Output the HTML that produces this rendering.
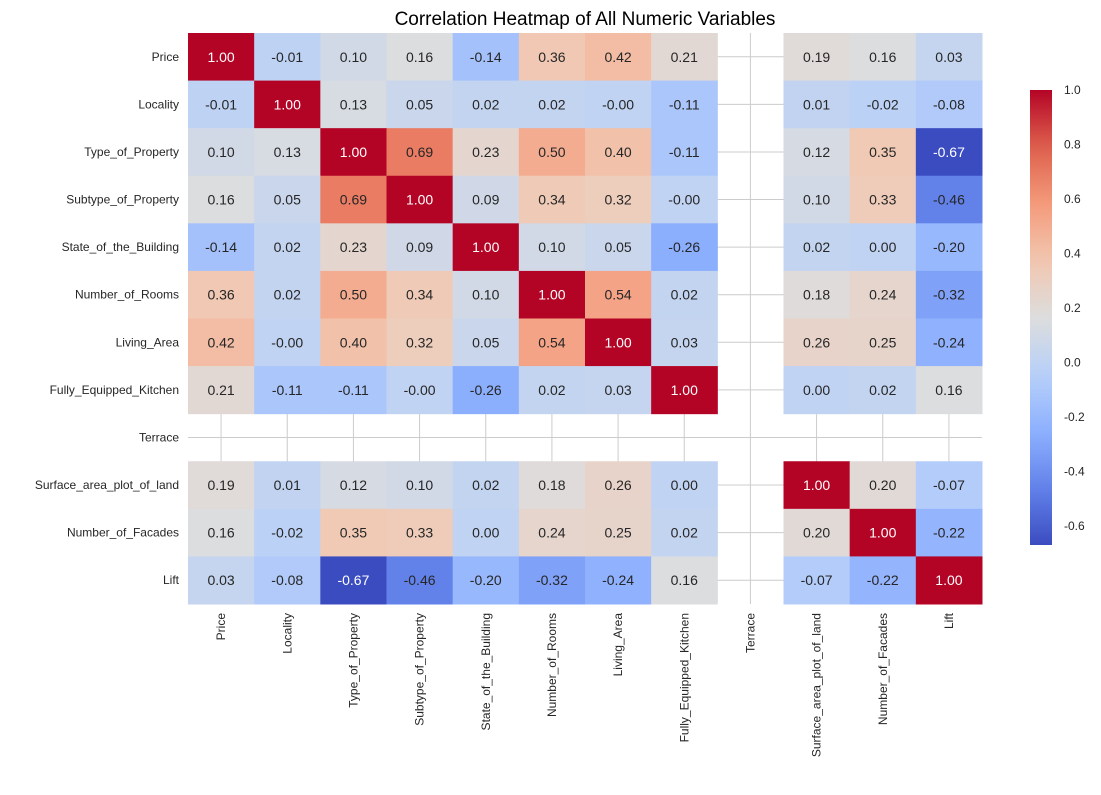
<!DOCTYPE html>
<html><head><meta charset="utf-8"><style>
body{margin:0;background:#fff;font-family:"Liberation Sans",Arial,sans-serif}
svg text{font-family:"Liberation Sans",Arial,sans-serif}
</style></head><body>
<svg id="c" width="1101" height="790"></svg>
<script>
const labels=["Price","Locality","Type_of_Property","Subtype_of_Property","State_of_the_Building","Number_of_Rooms","Living_Area","Fully_Equipped_Kitchen","Terrace","Surface_area_plot_of_land","Number_of_Facades","Lift"];
const N=null;
const values=[
[1.00,-0.01,0.10,0.16,-0.14,0.36,0.42,0.21,N,0.19,0.16,0.03],
[-0.01,1.00,0.13,0.05,0.02,0.02,-0,-0.11,N,0.01,-0.02,-0.08],
[0.10,0.13,1.00,0.69,0.23,0.50,0.40,-0.11,N,0.12,0.35,-0.67],
[0.16,0.05,0.69,1.00,0.09,0.34,0.32,-0,N,0.10,0.33,-0.46],
[-0.14,0.02,0.23,0.09,1.00,0.10,0.05,-0.26,N,0.02,0.00,-0.20],
[0.36,0.02,0.50,0.34,0.10,1.00,0.54,0.02,N,0.18,0.24,-0.32],
[0.42,-0,0.40,0.32,0.05,0.54,1.00,0.03,N,0.26,0.25,-0.24],
[0.21,-0.11,-0.11,-0,-0.26,0.02,0.03,1.00,N,0.00,0.02,0.16],
[N,N,N,N,N,N,N,N,N,N,N,N],
[0.19,0.01,0.12,0.10,0.02,0.18,0.26,0.00,N,1.00,0.20,-0.07],
[0.16,-0.02,0.35,0.33,0.00,0.24,0.25,0.02,N,0.20,1.00,-0.22],
[0.03,-0.08,-0.67,-0.46,-0.20,-0.32,-0.24,0.16,N,-0.07,-0.22,1.00]];
const cbTicks=[1.0,0.8,0.6,0.4,0.2,0.0,-0.2,-0.4,-0.6];
const vmin=-0.67,vmax=1.0;
const stops=[[0,[59,76,192]],[0.125,[98,130,234]],[0.25,[141,176,254]],[0.375,[184,208,249]],[0.5,[221,221,221]],[0.625,[242,199,176]],[0.75,[244,154,123]],[0.875,[222,96,77]],[1,[180,4,38]]];
function cmap(v){let t=Math.max(0,Math.min(1,(v-vmin)/(vmax-vmin)));for(let i=1;i<stops.length;i++){if(t<=stops[i][0]){const a=stops[i-1],b=stops[i],f=(t-a[0])/(b[0]-a[0]);return a[1].map((c,k)=>Math.round(c+(b[1][k]-c)*f));}}return stops[8][1];}
function fmt(v){return (Object.is(v,-0)?"-":"")+v.toFixed(2);}
const svg=document.getElementById('c');const NS="http://www.w3.org/2000/svg";
function el(tag,a,p){const e=document.createElementNS(NS,tag);for(const k in a)e.setAttribute(k,a[k]);(p||svg).appendChild(e);return e;}
const X0=188,Y0=33,X1=982,Y1=604,n=labels.length,cw=(X1-X0)/n,ch=(Y1-Y0)/n;
const xc=i=>X0+(i+0.5)*cw, yc=i=>Y0+(i+0.5)*ch;
let t=el('text',{x:585,y:25,'font-size':19,'text-anchor':'middle',fill:'#000'});t.textContent="Correlation Heatmap of All Numeric Variables";

for(let i=0;i<n;i++){
 let g=el('line',{x1:xc(i),x2:xc(i),y1:Y0,y2:Y1,stroke:'#cccccc','stroke-width':1});
 
 g=el('line',{x1:X0,x2:X1,y1:yc(i),y2:yc(i),stroke:'#cccccc','stroke-width':1});
 
}
for(let r=0;r<n;r++)for(let c=0;c<n;c++){const v=values[r][c];if(v===null)continue;
 const col=cmap(v);
 const rc=el('rect',{x:X0+c*cw,y:Y0+r*ch,width:cw+0.5,height:ch+0.5,fill:`rgb(${col})`});
 
 const lum=(0.2126*col[0]+0.7152*col[1]+0.0722*col[2])/255;
 const tx=el('text',{x:xc(c),y:yc(r)+5,'font-size':14,'text-anchor':'middle',fill:lum>0.45?'#262626':'#ffffff'});
 tx.textContent=fmt(v);
 
}
for(let i=0;i<n;i++){
 let l=el('text',{x:X0-9,y:yc(i)+4,'font-size':12,'text-anchor':'end',fill:'#262626'});l.textContent=labels[i];
 
 l=el('text',{x:0,y:0,'font-size':12,'text-anchor':'end',fill:'#262626',transform:`translate(${xc(i)+4},${Y1+9}) rotate(-90)`});l.textContent=labels[i];
 
}
const CX=1030,CW=22,CY0=90,CY1=545;
const cy=v=>CY0+(vmax-v)/(vmax-vmin)*(CY1-CY0);
const defs=el('defs',{});const lg=el('linearGradient',{id:'g',x1:0,y1:1,x2:0,y2:0},defs);
for(let i=0;i<=20;i++){const col=cmap(vmin+(vmax-vmin)*i/20);el('stop',{offset:i/20,'stop-color':`rgb(${col})`},lg);}
const cb=el('rect',{x:CX,y:CY0,width:CW,height:CY1-CY0,fill:'url(#g)'});

cbTicks.forEach(v=>{const y=cy(v);
 const l=el('text',{x:CX+CW+12,y:y+4,'font-size':12,fill:'#262626'});l.textContent=v.toFixed(1);
 
});
</script></body></html>
